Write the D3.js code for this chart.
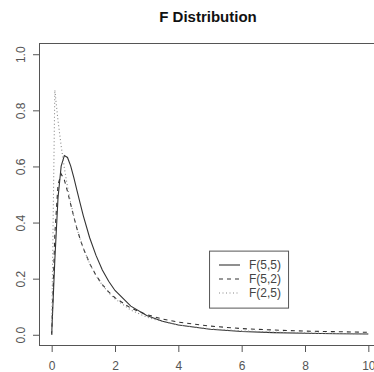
<!DOCTYPE html>
<html>
<head>
<meta charset="utf-8">
<script src="https://cdn.jsdelivr.net/npm/d3@7"></script>
<style>
body { margin: 0; background: #fff; }
svg { display: block; font-family: "Liberation Sans", Arial, sans-serif; }
</style>
</head>
<body>
<div id="chart"></div>
<script>
const width = 374, height = 372;

// values
const xs     = [0, 0.1, 0.2, 0.3, 0.4, 0.5, 0.6, 0.7, 0.8, 0.9, 1.0, 1.2, 1.4, 1.6, 1.8, 2, 2.5, 3, 3.5, 4, 5, 6, 7, 8, 9, 10];
const f55    = [0, 0.267, 0.488, 0.601, 0.639, 0.632, 0.602, 0.560, 0.514, 0.468, 0.424, 0.346, 0.283, 0.231, 0.191, 0.158, 0.102, 0.069, 0.048, 0.035, 0.0195, 0.0119, 0.0077, 0.0052, 0.0037, 0.0027];
const f52    = [0, 0.358, 0.535, 0.573, 0.552, 0.511, 0.465, 0.420, 0.378, 0.341, 0.308, 0.254, 0.212, 0.179, 0.153, 0.132, 0.095, 0.072, 0.056, 0.045, 0.031, 0.022, 0.017, 0.013, 0.011, 0.0087];
const f25    = [0, 0.872, 0.764, 0.673, 0.595, 0.528, 0.471, 0.422, 0.378, 0.341, 0.308, 0.254, 0.211, 0.177, 0.150, 0.128, 0.088, 0.063, 0.047, 0.035, 0.021, 0.014, 0.0094, 0.0066, 0.0048, 0.0036];
const seriesNames = ["F(5,5)", "F(5,2)", "F(2,5)"];
const xTicks = [0, 2, 4, 6, 8, 10];
const yTicks = [0, 0.2, 0.4, 0.6, 0.8, 1.0];

const dashes = ["none", "4,4", "1,2.5"];
const colors = ["#333", "#333", "#888"];

const svg = d3.select("#chart")
    .append("svg")
    .attr("width", width)
    .attr("height", height);

let xScale = d3.scaleLinear().domain([-0.4, 10.4]).range([39, 381]);
let yScale = d3.scaleLinear().domain([-0.04, 1.04]).range([346, 43]);

svg.append("text")
    .attr("x", 208)
    .attr("y", 22)
    .attr("text-anchor", "middle")
    .style("font-size", "15px")
    .style("font-weight", "bold")
    .attr("fill", "#111")
    .text("F Distribution");

let series = [f55, f52, f25];
series.forEach(function (vals, i) {
    let pts = xs.map(function (x, j) { return {x: x, y: vals[j]}; });
    svg.append("path")
        .datum(pts)
        .attr("fill", "none")
        .attr("stroke", colors[i])
        .attr("stroke-width", 1.1)
        .attr("stroke-dasharray", dashes[i])
        .attr("d", d3.line()
            .x(function (d) { return xScale(d.x); })
            .y(function (d) { return yScale(d.y); }));
});

// box
svg.append("rect")
    .attr("x", 39.5)
    .attr("y", 43.5)
    .attr("width", 342)
    .attr("height", 302)
    .attr("fill", "none")
    .attr("stroke", "#555");

let xAxis = svg.append("g")
    .attr("transform", "translate(0,346)")
    .call(d3.axisBottom(xScale).tickValues(xTicks).tickSize(6).tickFormat(d3.format("d")));
xAxis.select(".domain").remove();
xAxis.selectAll("line").attr("stroke", "#555");
xAxis.selectAll("text")
    .attr("y", 15)
    .attr("fill", "#555")
    .style("font-size", "12px")
    .style("font-family", "Liberation Sans, Arial, sans-serif");

let yAxis = svg.append("g")
    .attr("transform", "translate(39,0)")
    .call(d3.axisLeft(yScale).tickValues(yTicks).tickSize(6).tickFormat(d3.format(".1f")));
yAxis.select(".domain").remove();
yAxis.selectAll("line").attr("stroke", "#555");
yAxis.selectAll("text")
    .attr("x", null)
    .attr("dy", null)
    .attr("transform", "translate(-14,0) rotate(-90)")
    .attr("text-anchor", "middle")
    .attr("dominant-baseline", "auto")
    .attr("fill", "#555")
    .style("font-size", "12px")
    .style("font-family", "Liberation Sans, Arial, sans-serif");

// legend
let legend = svg.append("g");
legend.append("rect")
    .attr("x", xScale(4.97) + 0.5)
    .attr("y", yScale(0.3) + 0.5)
    .attr("width", 79)
    .attr("height", 57)
    .attr("fill", "#fff")
    .attr("stroke", "#555");
seriesNames.forEach(function (name, i) {
    let ly = 265 + i * 14;
    legend.append("line")
        .attr("x1", 219).attr("x2", 240)
        .attr("y1", ly).attr("y2", ly)
        .attr("stroke", colors[i])
        .attr("stroke-width", 1.1)
        .attr("stroke-dasharray", dashes[i]);
    legend.append("text")
        .attr("x", 249)
        .attr("y", ly + 4)
        .attr("fill", "#444")
        .style("font-size", "12px")
        .text(name);
});
</script>
</body>
</html>
